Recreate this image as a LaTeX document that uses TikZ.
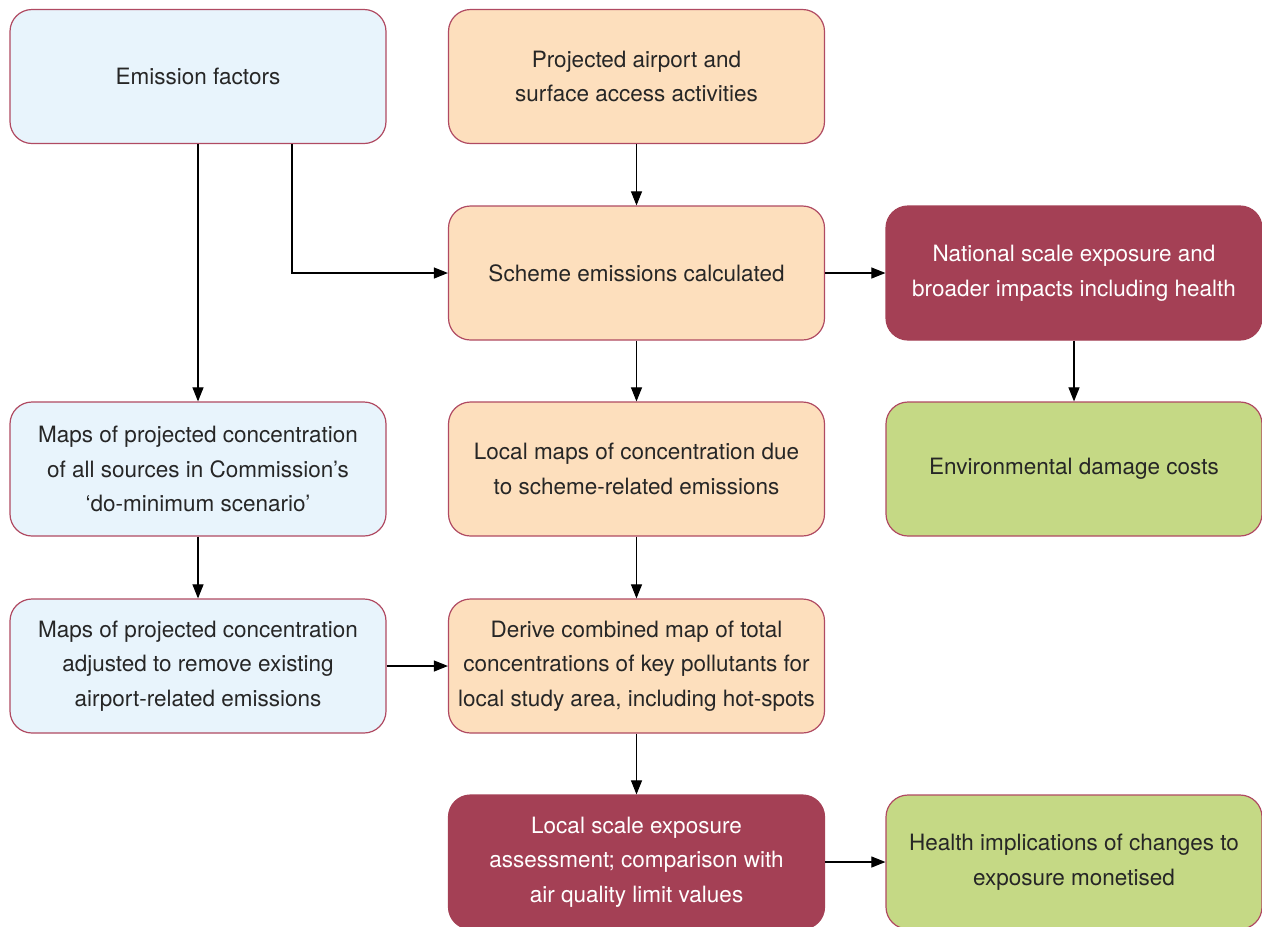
\documentclass[tikz,border=0pt]{standalone}
\usepackage{fontspec}
\setmainfont{TeX Gyre Heros}
\usetikzlibrary{arrows.meta}
\definecolor{bordc}{HTML}{B04A62}
\definecolor{bluef}{HTML}{E8F4FC}
\definecolor{orangef}{HTML}{FDDFBD}
\definecolor{maroonf}{HTML}{A44055}
\definecolor{greenf}{HTML}{C5D985}
\tikzset{
  box/.style={draw=bordc, line width=1.2pt, rounded corners=22pt, minimum width=376pt, minimum height=134pt,
    align=center, font=\fontsize{22.5}{34.5}\selectfont, inner sep=0pt, text=black!85},
  bluebox/.style={box, fill=bluef},
  orangebox/.style={box, fill=orangef},
  maroonbox/.style={box, fill=maroonf, draw=maroonf, text=white},
  greenbox/.style={box, fill=greenf},
  conn/.style={line width=1.1pt, -{Triangle[length=14pt,width=11pt]}},
}
\begin{document}
\begin{tikzpicture}[x=1pt,y=-1pt]
\useasboundingbox (0,0) rectangle (1262,927);
\clip (0,0) rectangle (1262,927);
\fill[white] (0,0) rectangle (1262,927);
\node[bluebox] (ef) at (198,76.5) {Emission factors};
\node[orangebox] (pa) at (636.5,76.5) {Projected airport and\\surface access activities};
\node[orangebox] (se) at (636.5,273) {Scheme emissions calculated};
\node[maroonbox] (ns) at (1074,273) {National scale exposure and\\broader impacts including health};
\node[bluebox] (mp) at (198,469) {Maps of projected concentration\\of all sources in Commission’s\\‘do-minimum scenario’};
\node[orangebox] (lm) at (636.5,469) {Local maps of concentration due\\to scheme-related emissions};
\node[greenbox] (ed) at (1074,469) {Environmental damage costs};
\node[bluebox] (ma) at (198,666) {Maps of projected concentration\\adjusted to remove existing\\airport-related emissions};
\node[orangebox] (dc) at (636.5,666) {Derive combined map of total\\concentrations of key pollutants for\\local study area, including hot-spots};
\node[maroonbox] (ls) at (636.5,862) {Local scale exposure\\assessment; comparison with\\air quality limit values};
\node[greenbox] (hi) at (1074,862) {Health implications of changes to\\exposure monetised};
\draw[conn] (ef.south) -- (mp.north);
\draw[conn] (ef.south -| 292,0) |- (se.west);
\draw[conn] (pa) -- (se);
\draw[conn] (se) -- (ns);
\draw[conn] (ns) -- (ed);
\draw[conn] (se) -- (lm);
\draw[conn] (mp) -- (ma);
\draw[conn] (lm) -- (dc);
\draw[conn] (ma) -- (dc);
\draw[conn] (dc) -- (ls);
\draw[conn] (ls) -- (hi);
\end{tikzpicture}
\end{document}
